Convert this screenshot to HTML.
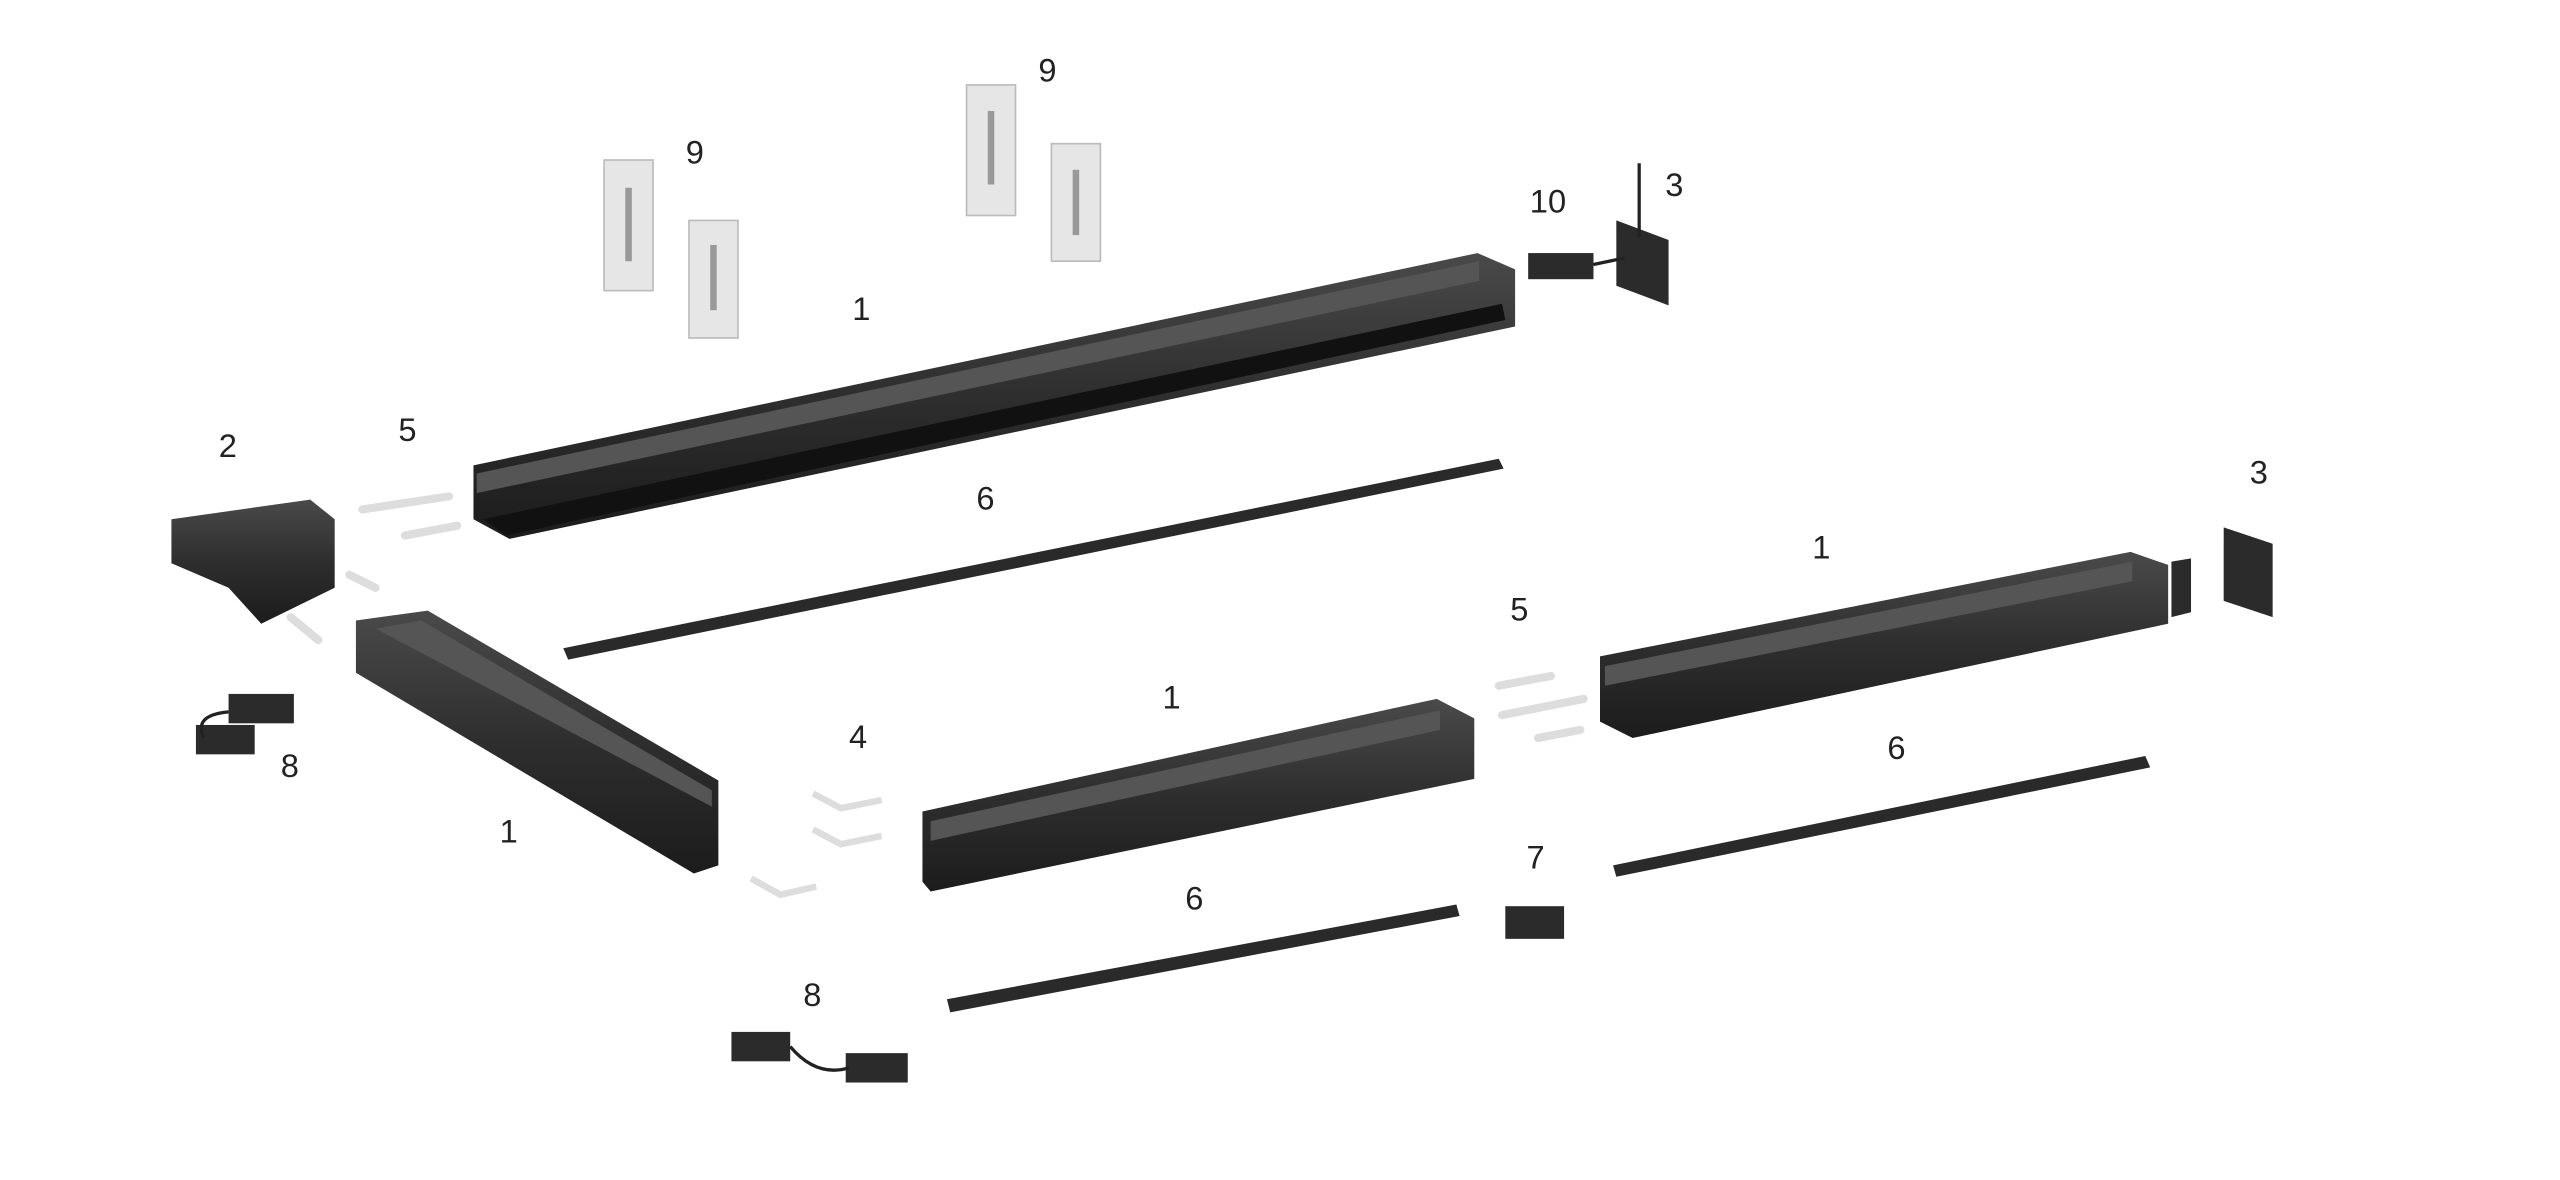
<!DOCTYPE html>
<html><head><meta charset="utf-8"><style>
html,body{margin:0;padding:0;background:#fff;width:2560px;height:1180px;overflow:hidden}
svg{display:block}
text{font-family:"Liberation Sans",sans-serif;font-size:20px;fill:#222}
</style></head><body>
<svg width="2560" height="1180" viewBox="0 0 1568 722.7" preserveAspectRatio="none">
<defs>
<linearGradient id="rg" x1="0" y1="0" x2="0" y2="1"><stop offset="0" stop-color="#4a4a4a"/><stop offset="0.5" stop-color="#2e2e2e"/><stop offset="1" stop-color="#1c1c1c"/></linearGradient>
</defs>
<!-- brackets 9 -->
<g fill="#e6e6e6" stroke="#bbb" stroke-width="1">
<rect x="370" y="98" width="30" height="80"/><rect x="422" y="135" width="30" height="72"/>
<rect x="592" y="52" width="30" height="80"/><rect x="644" y="88" width="30" height="72"/>
</g>
<g fill="#999"><rect x="383" y="115" width="4" height="45"/><rect x="435" y="150" width="4" height="40"/><rect x="605" y="68" width="4" height="45"/><rect x="657" y="104" width="4" height="40"/></g>
<!-- top rail -->
<polygon points="290,285 905,155 928,165 928,200 312,330 290,318" fill="url(#rg)"/>
<polygon points="292,290 906,160 906,172 292,302" fill="#555"/>
<polygon points="296,318 920,186 922,196 310,328" fill="#111"/>
<!-- left diagonal rail -->
<polygon points="218,380 262,374 440,478 440,530 425,535 218,412" fill="url(#rg)"/>
<polygon points="230,385 258,380 436,484 436,494" fill="#555"/>
<!-- middle rail -->
<polygon points="565,497 880,428 903,440 903,477 570,546 565,540" fill="url(#rg)"/>
<polygon points="570,503 882,435 882,447 570,515" fill="#555"/>
<!-- right rail -->
<polygon points="980,402 1305,338 1328,346 1328,382 1000,452 980,442" fill="url(#rg)"/>
<polygon points="983,408 1306,344 1306,356 983,420" fill="#555"/>
<!-- bars 6 -->
<polygon points="345,397 918,281 921,287 348,404" fill="#2a2a2a"/>
<polygon points="580,612 892,554 894,561 582,620" fill="#2a2a2a"/>
<polygon points="988,530 1314,463 1317,470 990,537" fill="#2a2a2a"/>
<!-- corner 2 -->
<polygon points="105,318 190,306 205,318 205,360 160,382 140,360 105,345" fill="url(#rg)"/>
<!-- joiners 5 (light) -->
<g stroke="#ddd" stroke-width="5" stroke-linecap="round">
<line x1="222" y1="312" x2="275" y2="304"/><line x1="248" y1="328" x2="280" y2="322"/>
<line x1="918" y1="420" x2="950" y2="414"/><line x1="920" y1="438" x2="970" y2="428"/><line x1="942" y1="452" x2="968" y2="447"/>
<line x1="214" y1="352" x2="230" y2="360"/><line x1="178" y1="378" x2="195" y2="392"/>
</g>
<!-- corner connectors 4 -->
<g stroke="#ddd" stroke-width="4" fill="none">
<polyline points="498,486 515,495 540,490"/><polyline points="498,508 515,517 540,512"/><polyline points="460,538 478,548 500,543"/>
</g>
<!-- connectors 8 -->
<g fill="#2b2b2b">
<rect x="140" y="425" width="40" height="18"/><rect x="120" y="444" width="36" height="18"/>
<rect x="448" y="632" width="36" height="18"/><rect x="518" y="645" width="38" height="18"/>
<rect x="922" y="555" width="36" height="20"/>
<rect x="936" y="155" width="40" height="16"/>
<polygon points="990,135 1022,147 1022,187 990,175"/>
<polygon points="1362,323 1392,333 1392,378 1362,368"/>
<polygon points="1330,344 1342,342 1342,375 1330,378"/>
</g>
<g stroke="#222" stroke-width="2" fill="none">
<path d="M140,436 Q118,438 125,452"/><path d="M484,641 Q500,660 520,654"/>
<path d="M976,162 L995,158"/><line x1="1004" y1="100" x2="1004" y2="145"/>
</g>
<!-- labels -->
<text x="420" y="100">9</text><text x="636" y="50">9</text>
<text x="937" y="130">10</text><text x="1020" y="120">3</text>
<text x="522" y="196">1</text><text x="134" y="280">2</text><text x="244" y="270">5</text>
<text x="598" y="312">6</text><text x="1378" y="296">3</text><text x="1110" y="342">1</text>
<text x="925" y="380">5</text><text x="712" y="434">1</text><text x="520" y="458">4</text>
<text x="1156" y="465">6</text><text x="172" y="476">8</text><text x="306" y="516">1</text>
<text x="935" y="532">7</text><text x="726" y="557">6</text><text x="492" y="616">8</text>
</svg>
</body></html>
